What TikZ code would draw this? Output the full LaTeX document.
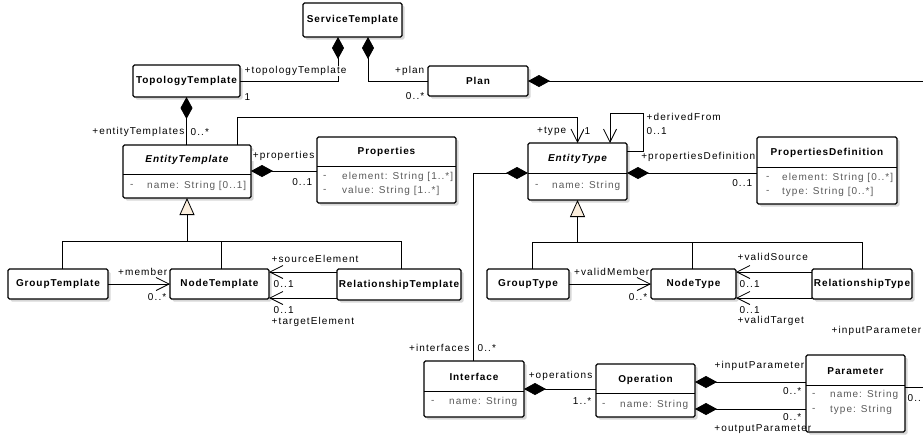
\documentclass[tikz,border=0pt]{standalone}
\usepackage{fontspec}
\setmainfont{Liberation Sans}
\usetikzlibrary{arrows.meta,shadows}
\definecolor{genfill}{HTML}{FBEEDD}
\definecolor{attrgray}{HTML}{5A5A5A}
\begin{document}
\begin{tikzpicture}[x=1pt,y=-1pt,
  box/.style={draw, fill=white, line width=1.1pt, rounded corners=1.5pt, inner sep=0pt, outer sep=0pt, anchor=north west,
    drop shadow={shadow xshift=2.5pt,shadow yshift=-2.5pt,fill=black!35,opacity=0.45}},
  ttl/.style={font=\fontsize{10}{12}\selectfont\bfseries\addfontfeature{LetterSpace=9}, inner sep=0pt},
  ttli/.style={font=\fontsize{10}{12}\selectfont\bfseries\itshape\addfontfeature{LetterSpace=9}, inner sep=0pt},
  attr/.style={font=\fontsize{10}{12}\selectfont\addfontfeature{LetterSpace=10}, text=attrgray, inner sep=0pt, anchor=west},
  lbl/.style={font=\fontsize{10}{12}\selectfont\addfontfeature{LetterSpace=11}, inner sep=0.5pt, fill=white},
  conn/.style={line width=0.8pt},
  comp/.style={conn, {Diamond[length=22pt,width=12pt]}-},
  assoc/.style={conn, -{Straight Barb[length=13pt,width=13pt]}},
  gen/.style={conn, -{Triangle[length=17pt,width=15pt,fill=genfill]}},
  sepline/.style={line width=1pt}]
\path[use as bounding box] (0,0) rectangle (923,440);
\clip (0,0) rectangle (923,440);

% ---------- boxes ----------
\node[box, minimum width=99pt, minimum height=34pt] (st) at (303,3) {};
\node[ttl] (st-t) at (352.5,20) {ServiceTemplate};

\node[box, minimum width=107pt, minimum height=32pt] (tt) at (133,65) {};
\node[ttl] (tt-t) at (186.5,81) {TopologyTemplate};

\node[box, minimum width=100pt, minimum height=30pt] (plan) at (428,66) {};
\node[ttl] (plan-t) at (478,81) {Plan};

\node[box, minimum width=128pt, minimum height=53pt] (et) at (123,145) {};
\draw[sepline] ([yshift=-29pt]et.north west) -- ([yshift=-29pt]et.north east);
\node[ttli] (et-t) at (187,160) {EntityTemplate};
\node[attr] (et-d1) at (130,186) {-};
\node[attr] (et-a1) at (147,186) {name: String [0..1]};

\node[box, minimum width=139pt, minimum height=66pt] (props) at (317,137) {};
\draw[sepline] ([yshift=-29pt]props.north west) -- ([yshift=-29pt]props.north east);
\node[ttl] (props-t) at (386.5,152) {Properties};
\node[attr] (props-d1) at (323,177) {-};
\node[attr] (props-a1) at (342,177) {element: String [1..*]};
\node[attr] (props-d2) at (323,191) {-};
\node[attr] (props-a2) at (342,191) {value: String [1..*]};

\node[box, minimum width=99pt, minimum height=57pt] (ety) at (528,143) {};
\draw[sepline] ([yshift=-30pt]ety.north west) -- ([yshift=-30pt]ety.north east);
\node[ttli] (ety-t) at (577.5,159) {EntityType};
\node[attr] (ety-d1) at (535,186) {-};
\node[attr] (ety-a1) at (552,186) {name: String};

\node[box, minimum width=140pt, minimum height=67pt] (pd) at (757,137) {};
\draw[sepline] ([yshift=-30pt]pd.north west) -- ([yshift=-30pt]pd.north east);
\node[ttl] (pd-t) at (827,153) {PropertiesDefinition};
\node[attr] (pd-d1) at (766,178) {-};
\node[attr] (pd-a1) at (782,178) {element: String [0..*]};
\node[attr] (pd-d2) at (766,192) {-};
\node[attr] (pd-a2) at (782,192) {type: String [0..*]};

\node[box, minimum width=100pt, minimum height=30pt] (gt) at (8,269) {};
\node[ttl] (gt-t) at (58,284) {GroupTemplate};

\node[box, minimum width=99pt, minimum height=30pt] (nt) at (170,269) {};
\node[ttl] (nt-t) at (219.5,284) {NodeTemplate};

\node[box, minimum width=124pt, minimum height=31pt] (rt) at (337,269) {};
\node[ttl] (rt-t) at (399,284.5) {RelationshipTemplate};

\node[box, minimum width=82pt, minimum height=30pt] (gty) at (487,269) {};
\node[ttl] (gty-t) at (528,284) {GroupType};

\node[box, minimum width=85pt, minimum height=30pt] (nty) at (651,269) {};
\node[ttl] (nty-t) at (693.5,284) {NodeType};

\node[box, minimum width=100pt, minimum height=30pt] (rty) at (812,269) {};
\node[ttl] (rty-t) at (862,284) {RelationshipType};

\node[box, minimum width=100pt, minimum height=56pt] (itf) at (424,361) {};
\draw[sepline] ([yshift=-30pt]itf.north west) -- ([yshift=-30pt]itf.north east);
\node[ttl] (itf-t) at (474,377) {Interface};
\node[attr] (itf-d1) at (431,402) {-};
\node[attr] (itf-a1) at (449,402) {name: String};

\node[box, minimum width=99pt, minimum height=53pt] (op) at (596,364) {};
\draw[sepline] ([yshift=-29pt]op.north west) -- ([yshift=-29pt]op.north east);
\node[ttl] (op-t) at (645.5,380) {Operation};
\node[attr] (op-d1) at (602,405) {-};
\node[attr] (op-a1) at (620,405) {name: String};

\node[box, minimum width=99pt, minimum height=77pt] (par) at (806,355) {};
\draw[sepline] ([yshift=-30pt]par.north west) -- ([yshift=-30pt]par.north east);
\node[ttl] (par-t) at (855.5,371) {Parameter};
\node[attr] (par-d1) at (812,395) {-};
\node[attr] (par-a1) at (830,395) {name: String};
\node[attr] (par-d2) at (812,410) {-};
\node[attr] (par-a2) at (830,410) {type: String};

% ---------- connectors ----------
\draw[comp] ([xshift=35pt]st.south west) |- (tt.east);
\draw[comp] ([xshift=65pt]st.south west) |- (plan.west);
\coordinate (edgeA) at (930,81);
\draw[comp] (plan.east) -- (edgeA);
\draw[comp] (tt.south) -- (tt.south |- et.north);

\coordinate (jt) at (237,117);
\draw[assoc] ([xshift=114pt]et.north west) -- (jt) -| (ety.north);
\draw[assoc] ([yshift=-8pt]ety.north east) -- ++(16,0) -- ++(0,-38) -| ([xshift=82pt]ety.north west);

\draw[comp] ([yshift=-30pt]ety.north east) -- ([yshift=-36pt]pd.north west);
\draw[comp] ([yshift=-26pt]et.north east) -- ([yshift=-34pt]props.north west);
\draw[comp] ([yshift=-30pt]ety.north west) -| ([xshift=49pt]itf.north west);
\draw[comp] ([yshift=-28pt]itf.north east) -- ([yshift=-25pt]op.north west);
\draw[comp] ([yshift=-18pt]op.north east) -- ([yshift=-27pt]par.north west);
\draw[comp] ([yshift=-45pt]op.north east) -- ([yshift=-54pt]par.north west);
\coordinate (edgeB) at (930,387);
\draw[conn] ([yshift=-32pt]par.north east) -- (edgeB);

\coordinate (jl) at (187,241);
\draw[gen] (jl) -- (et.south);
\draw[conn] ([xshift=4pt]gt.north) |- (jl);
\draw[conn] ([xshift=2pt]nt.north) |- (jl);
\draw[conn] ([xshift=2pt]rt.north) |- (jl);

\coordinate (jr) at (577.5,242);
\draw[gen] (jr) -- (ety.south);
\draw[conn] ([xshift=4pt]gty.north) |- (jr);
\draw[conn] ([xshift=-1.5pt]nty.north) |- (jr);
\draw[conn] (rty.north) |- (jr);

\draw[assoc] (gt.east) -- (nt.west);
\draw[assoc] ([yshift=-3pt]rt.north west) -- ([yshift=-3pt]nt.north east);
\draw[assoc] ([yshift=-29pt]rt.north west) -- ([yshift=-29pt]nt.north east);
\draw[assoc] (gty.east) -- (nty.west);
\draw[assoc] ([yshift=-3pt]rty.north west) -- ([yshift=-3pt]nty.north east);
\draw[assoc] ([yshift=-29pt]rty.north west) -- ([yshift=-29pt]nty.north east);

% ---------- labels ----------
\node[lbl, anchor=west] (l-tt1) at (244,71) {+topologyTemplate};
\node[lbl, anchor=west] (l-tt2) at (244,97) {1};
\node[lbl, anchor=east] (l-pl1) at (425,71) {+plan};
\node[lbl, anchor=east] (l-pl2) at (425,96) {0..*};
\node[lbl, anchor=east] (l-et1) at (185,132) {+entityTemplates};
\node[lbl, anchor=west] (l-et2) at (190,132) {0..*};
\node[lbl, anchor=east] (l-ty1) at (567,131) {+type};
\node[lbl, anchor=west] (l-ty2) at (584,131) {1};
\node[lbl, anchor=west] (l-df1) at (646,117) {+derivedFrom};
\node[lbl, anchor=west] (l-df2) at (646,131) {0..1};
\node[lbl, anchor=east] (l-pd1) at (756,157) {+propertiesDefinition};
\node[lbl, anchor=east] (l-pd2) at (753,183) {0..1};
\node[lbl, anchor=east] (l-pr1) at (315,156) {+properties};
\node[lbl, anchor=east] (l-pr2) at (313,182) {0..1};
\node[lbl, anchor=east] (l-if1) at (470,348) {+interfaces};
\node[lbl, anchor=west] (l-if2) at (477,348) {0..*};
\node[lbl, anchor=east] (l-op1) at (593,376) {+operations};
\node[lbl, anchor=east] (l-op2) at (592,401) {1..*};
\node[lbl, anchor=east] (l-ip1) at (805,366) {+inputParameter};
\node[lbl, anchor=east] (l-ip2) at (802,391) {0..*};
\node[lbl, anchor=east] (l-opp2) at (802,417) {0..*};
\node[lbl, anchor=east, fill=none] (l-opp1) at (812,429) {+outputParameter};
\node[lbl, anchor=west] (l-pe) at (907,398) {0..};
\node[lbl, anchor=west] (l-ipx) at (831,331) {+inputParameter};
\node[lbl, anchor=east] (l-mb1) at (168,272) {+member};
\node[lbl, anchor=east] (l-mb2) at (167,297) {0..*};
\node[lbl, anchor=west] (l-se1) at (271,259) {+sourceElement};
\node[lbl, anchor=west] (l-se2) at (273,284) {0..1};
\node[lbl, anchor=west] (l-te2) at (273,310) {0..1};
\node[lbl, anchor=west] (l-te1) at (271,322) {+targetElement};
\node[lbl, anchor=east] (l-vm1) at (650,272) {+validMember};
\node[lbl, anchor=east] (l-vm2) at (648,297) {0..*};
\node[lbl, anchor=west] (l-vs1) at (737,257) {+validSource};
\node[lbl, anchor=west] (l-vs2) at (739,284) {0..1};
\node[lbl, anchor=west] (l-vt2) at (739,310) {0..1};
\node[lbl, anchor=west] (l-vt1) at (737,321) {+validTarget};
\end{tikzpicture}
\end{document}
